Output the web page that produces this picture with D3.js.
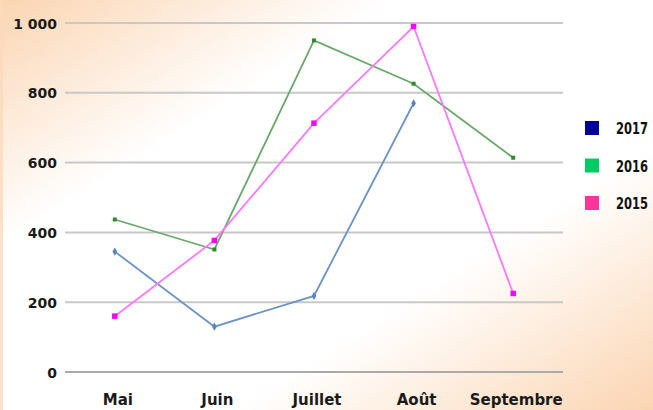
<!DOCTYPE html>
<html><head><meta charset="utf-8">
<script src="https://cdn.jsdelivr.net/npm/d3@7"></script>
<style>html,body{margin:0;padding:0;background:#fff;}svg{display:block;}</style>
</head><body>
<script>
const categories = ["Mai", "Juin", "Juillet", "Août", "Septembre"];
const yTicks = [0, 200, 400, 600, 800, 1000];
const tickLabels = ["0", "200", "400", "600", "800", "1 000"];
const values2017 = [345, 130, 218, 770, null];
const values2016 = [437, 351, 950, 826, 614];
const values2015 = [160, 377, 713, 990, 225];
const legendNames = ["2017", "2016", "2015"];

const W = 653, H = 410;
const svg = d3.select("body").append("svg").attr("width", W).attr("height", H);
const defs = svg.append("defs");
const g = defs.append("linearGradient").attr("id", "bg").attr("x1", 0).attr("y1", 0).attr("x2", 1).attr("y2", 1);
g.append("stop").attr("offset", 0).attr("stop-color", "#fbd5b2");
g.append("stop").attr("offset", 0.3).attr("stop-color", "#ffffff");
g.append("stop").attr("offset", 0.68).attr("stop-color", "#ffffff");
g.append("stop").attr("offset", 1).attr("stop-color", "#fbd5b2");
svg.append("rect").attr("width", W).attr("height", H).attr("fill", "url(#bg)");
svg.append("rect").attr("width", 3).attr("height", H).attr("fill", "#fbd9ba").attr("opacity", 0.8);

const x = d3.scaleBand().domain(categories).range([65, 563]);
const y = d3.scaleLinear().domain([0, 1000]).range([372, 23]);

// gridlines
const grid = svg.append("g");
grid.selectAll("line").data(yTicks).join("line")
  .attr("x1", 65).attr("x2", 563)
  .attr("y1", d => y(d)).attr("y2", d => y(d))
  .attr("stroke", d => d === 0 ? "#aaaaaa" : "#c8c8c8").attr("stroke-width", 2);

// y tick labels
const yAxis = d3.axisLeft(y).tickValues(yTicks).tickSize(0).tickPadding(0)
  .tickFormat((d, i) => tickLabels[i]);
const ya = svg.append("g").attr("transform", "translate(57,0)").call(yAxis);
ya.select(".domain").remove();
ya.selectAll("text").attr("font-family", "DejaVu Sans").attr("font-weight", "bold")
  .attr("font-size", 14).attr("fill", "#1a1a1a").attr("dy", "0.36em");

// x labels
const xAxis = d3.axisBottom(x).tickSize(0).tickPadding(0);
const xa = svg.append("g").attr("transform", "translate(3,394)").call(xAxis);
xa.select(".domain").remove();
xa.selectAll("text").attr("font-family", "DejaVu Sans").attr("font-weight", "bold")
  .attr("font-size", 15).attr("fill", "#1a1a1a").attr("dy", "0.72em");

const cx = c => x(c) + x.bandwidth() / 2;
const series = [
  {vals: values2017, line: "#6b93c9", mark: "#5a85c0", shape: "diamond", size: 4},
  {vals: values2016, line: "#6aa86a", mark: "#2f8a2f", shape: "square", size: 4},
  {vals: values2015, line: "#ff77ff", mark: "#ff00ff", shape: "square", size: 5.5}
];
series.forEach(s => {
  const pts = categories.map((c, i) => ({c, v: s.vals[i]})).filter(p => p.v != null);
  const line = d3.line().x(p => cx(p.c)).y(p => y(p.v));
  svg.append("path").datum(pts).attr("d", line).attr("fill", "none")
    .attr("stroke", s.line).attr("stroke-width", 1.8);
  svg.append("g").selectAll("path").data(pts).join("path")
    .attr("transform", p => `translate(${cx(p.c)},${y(p.v)})`)
    .attr("d", s.shape === "diamond"
      ? d3.symbol().type(d3.symbolDiamond).size(s.size * s.size * 1.2)
      : d3.symbol().type(d3.symbolSquare).size(s.size * s.size))
    .attr("fill", s.mark);
});

// legend
const legendColors = ["#000099", "#00cc66", "#ff3399"];
const leg = svg.append("g");
legendNames.forEach((n, i) => {
  const yy = 128 + i * 37.5;
  leg.append("rect").attr("x", 585).attr("y", yy - 7).attr("width", 14).attr("height", 14)
    .attr("fill", legendColors[i]);
  leg.append("text").attr("x", 616).attr("y", yy + 6).text(n)
    .attr("font-family", "DejaVu Sans Condensed, DejaVu Sans").attr("font-weight", "bold")
    .attr("font-size", 15).attr("fill", "#111")
    .attr("textLength", 32).attr("lengthAdjust", "spacingAndGlyphs");
});
</script>
</body></html>
